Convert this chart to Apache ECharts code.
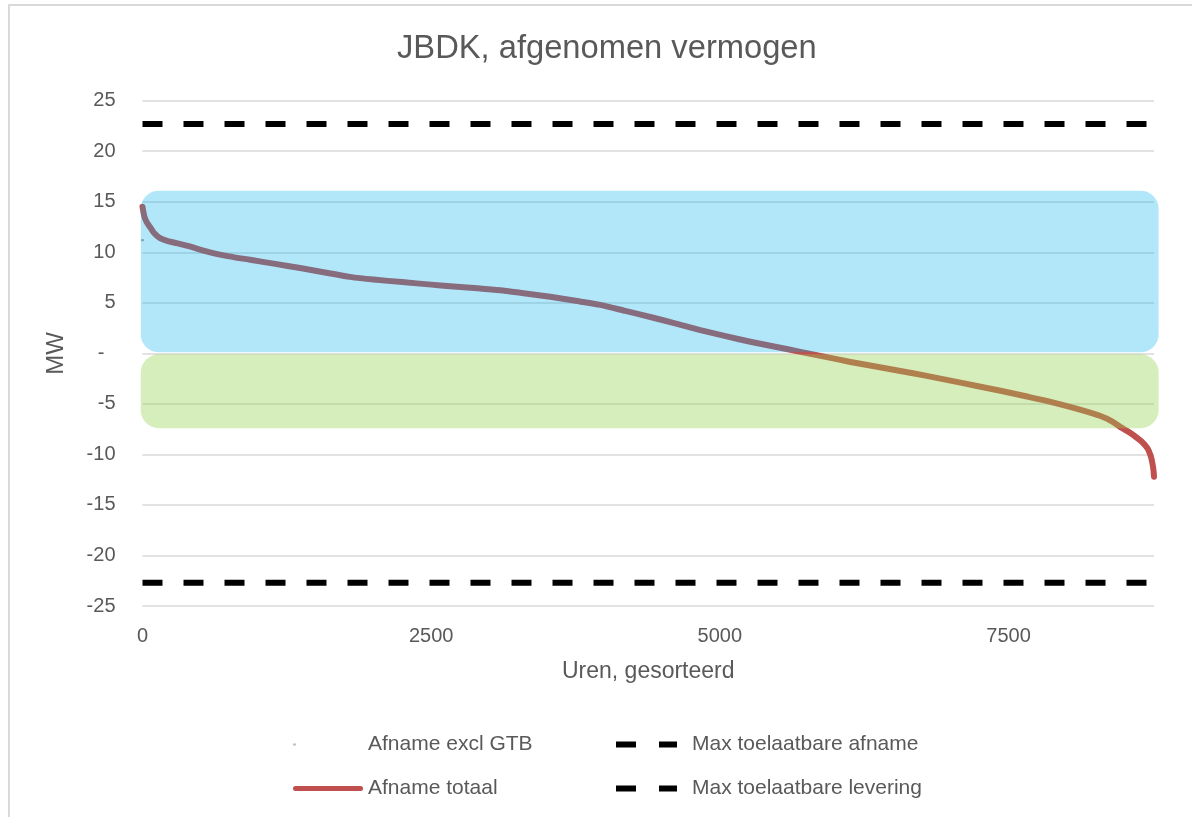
<!DOCTYPE html>
<html>
<head>
<meta charset="utf-8">
<script src="https://cdn.jsdelivr.net/npm/echarts@6/dist/echarts.min.js"></script>
<style>
  html, body { margin: 0; padding: 0; background: #fff; overflow: hidden; }
  #frame { position: absolute; left: 8px; top: 4px; width: 1400px; height: 1000px;
           border-left: 2px solid #D9D9D9; border-top: 2px solid #D9D9D9; }
  #chart { position: absolute; left: 0; top: 0; width: 1192px; height: 817px; }
</style>
</head>
<body>
<div id="frame"></div>
<div id="chart"></div>
<script>
// Sorted load-duration curve (hours of the year, MW)
const hours = [0, 15, 35, 65, 100, 152, 220, 296, 400, 585, 750, 932, 1150, 1365, 1580, 1798, 2000, 2250, 2500, 2665, 2900, 3098, 3300, 3531, 3750, 3965, 4180, 4398, 4620, 4831, 5050, 5264, 5480, 5698, 5915, 6131, 6350, 6564, 6780, 6997, 7215, 7431, 7650, 7864, 8080, 8297, 8400, 8470, 8530, 8583, 8650, 8704, 8730, 8745, 8756, 8760];
const afnameTotaal = [14.5, 13.6, 13.0, 12.5, 11.9, 11.4, 11.1, 10.9, 10.6, 10.0, 9.6, 9.26, 8.85, 8.44, 8.0, 7.57, 7.3, 7.05, 6.8, 6.65, 6.45, 6.25, 5.95, 5.6, 5.2, 4.8, 4.2, 3.6, 2.95, 2.3, 1.7, 1.15, 0.65, 0.15, -0.35, -0.85, -1.3, -1.75, -2.2, -2.7, -3.2, -3.7, -4.25, -4.8, -5.45, -6.2, -6.75, -7.3, -7.7, -8.1, -8.7, -9.4, -10.1, -10.8, -11.6, -12.2];

// Only a single visible point of the series without GTB
const exclGtbHours = [0];
const exclGtbValues = [11.2];

// Connection limits (MW)
const limitHours = [0, 8760];
const maxAfname = [22.7, 22.7];
const maxLevering = [-22.7, -22.7];

// Shaded zones: hour range and MW range
const zoneFrom = [-15, -15];
const zoneTo = [8800, 8800];
const zoneUpper = [16.1, -0.1];
const zoneLower = [0.1, -7.4];

// Axis ticks
const yMin = -25, yMax = 25, yStep = 5;
const xMin = 0, xMax = 8760, xStep = 2500;

const FONT = 'Liberation Sans';
const GREY = '#595959';
const zoneColors = ['rgba(0,176,240,0.30)', 'rgba(146,208,80,0.38)'];

const pairs = (xs, ys) => xs.map((x, i) => [x, ys[i]]);
const zoneData = zoneFrom.map((f, i) => [f, zoneTo[i], zoneUpper[i], zoneLower[i]]);

const dashIcon = 'path://M0,0L20,0L20,6L0,6Z M43,0L61,0L61,6L43,6Z';
const redIcon = 'path://M2.5,0L67.5,0A2.5,2.5,0,0,1,67.5,5L2.5,5A2.5,2.5,0,0,1,2.5,0Z';
const dotIcon = 'path://M0,6L3,6L3,8L0,8Z M70,0L70,0Z M70,14L70,14Z';

const chart = echarts.init(document.getElementById('chart'), null, { renderer: 'canvas' });

chart.setOption({
  animation: false,
  backgroundColor: 'transparent',
  textStyle: { fontFamily: FONT },
  title: {
    text: 'JBDK, afgenomen vermogen',
    left: 397,
    top: 32,
    padding: 0,
    textStyle: { fontFamily: FONT, fontSize: 32.7, fontWeight: 'normal', color: GREY }
  },
  grid: { left: 142.5, right: 38, top: 100.7, bottom: 211 },
  xAxis: {
    type: 'value',
    min: xMin, max: xMax, interval: xStep,
    name: 'Uren, gesorteerd',
    nameLocation: 'middle',
    nameGap: 54,
    nameTextStyle: { fontFamily: FONT, fontSize: 23, color: GREY, verticalAlign: 'top' },
    axisLine: { show: false },
    axisTick: { show: false },
    splitLine: { show: false },
    axisLabel: {
      showMaxLabel: false, margin: 20, fontFamily: FONT, fontSize: 20, color: GREY,
      formatter: v => String(v)
    }
  },
  yAxis: {
    type: 'value',
    min: yMin, max: yMax, interval: yStep,
    name: 'MW',
    nameLocation: 'middle',
    nameGap: 74,
    nameRotate: 90,
    nameTextStyle: { fontFamily: FONT, fontSize: 24, color: GREY },
    axisLine: { show: false },
    axisTick: { show: false },
    splitLine: { lineStyle: { color: '#D9D9D9', width: 1.5 } },
    axisLabel: {
      margin: 27,
      fontFamily: FONT, fontSize: 20, color: GREY,
      formatter: v => (v === 0 ? '-  ' : String(v))
    }
  },
  legend: [
    {
      data: [
        { name: 'Afname excl GTB', icon: dotIcon, itemStyle: { color: '#BFBFBF' } },
        { name: 'Afname totaal', icon: redIcon }
      ],
      orient: 'vertical',
      left: 293, top: 734, padding: 0,
      itemWidth: 70, itemHeight: 14, itemGap: 23,
      textStyle: { fontFamily: FONT, fontSize: 21, color: GREY, lineHeight: 21 }
    },
    {
      data: [
        { name: 'Max toelaatbare afname', icon: dashIcon },
        { name: 'Max toelaatbare levering', icon: dashIcon }
      ],
      orient: 'vertical',
      left: 616, top: 734, padding: 0,
      itemWidth: 61, itemHeight: 14, itemGap: 23,
      textStyle: { fontFamily: FONT, fontSize: 21, color: GREY, lineHeight: 21, padding: [0, 0, 0, 10] }
    }
  ],
  series: [
    {
      name: 'Afname excl GTB',
      type: 'line',
      data: pairs(exclGtbHours, exclGtbValues),
      symbol: 'rect',
      symbolSize: [3, 2],
      showSymbol: true,
      itemStyle: { color: '#A6A6A6' },
      lineStyle: { width: 0 },
      z: 2
    },
    {
      name: 'Afname totaal',
      type: 'line',
      data: pairs(hours, afnameTotaal),
      showSymbol: false,
      symbol: 'none',
      smooth: 0.2,
      itemStyle: { color: '#C0504D' },
      lineStyle: { color: '#C0504D', width: 6, cap: 'round', join: 'round' },
      z: 2
    },
    {
      name: 'Max toelaatbare afname',
      type: 'line',
      data: pairs(limitHours, maxAfname),
      symbol: 'none',
      itemStyle: { color: '#000' },
      lineStyle: { color: '#000', width: 6, type: [20, 21], cap: 'butt' },
      z: 2
    },
    {
      name: 'Max toelaatbare levering',
      type: 'line',
      data: pairs(limitHours, maxLevering),
      symbol: 'none',
      itemStyle: { color: '#000' },
      lineStyle: { color: '#000', width: 6, type: [20, 21], cap: 'butt' },
      z: 2
    },
    {
      name: 'zones',
      type: 'custom',
      data: zoneData,
      clip: false,
      silent: true,
      encode: { x: [0, 1], y: [2, 3] },
      z: 5,
      renderItem: (params, api) => {
        const p1 = api.coord([api.value(0), api.value(2)]);
        const p2 = api.coord([api.value(1), api.value(3)]);
        return {
          type: 'rect',
          shape: { x: p1[0], y: p1[1], width: p2[0] - p1[0], height: p2[1] - p1[1], r: 18 },
          style: { fill: zoneColors[params.dataIndex] }
        };
      }
    }
  ]
});
</script>
</body>
</html>
